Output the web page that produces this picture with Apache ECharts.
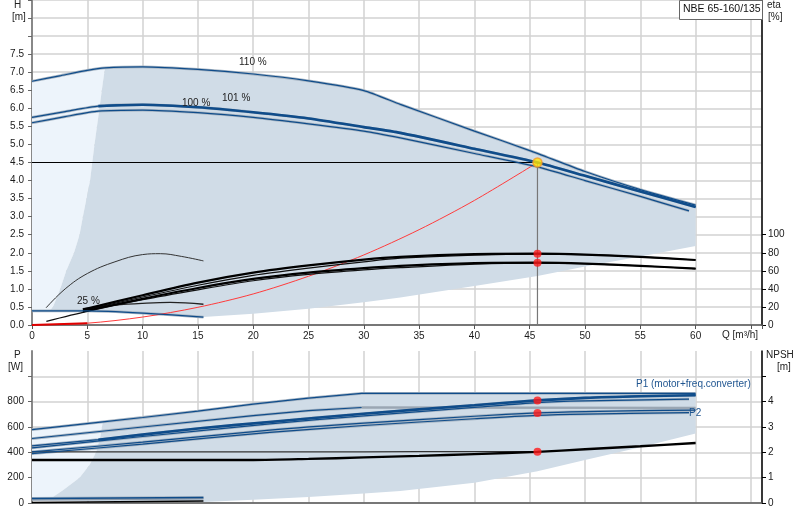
<!DOCTYPE html>
<html><head><meta charset="utf-8">
<script src="https://cdn.jsdelivr.net/npm/echarts@6/dist/echarts.min.js"></script>
<style>html,body{margin:0;padding:0;background:#fff}#chart{width:800px;height:520px}</style>
</head><body><div id="chart"></div>
<script>
// tick labels
const qTicks = [0, 5, 10, 15, 20, 25, 30, 35, 40, 45, 50, 55, 60];
const hTicks = [0, 0.5, 1, 1.5, 2, 2.5, 3, 3.5, 4, 4.5, 5, 5.5, 6, 6.5, 7, 7.5];
const etaTicks = [0, 20, 40, 60, 80, 100];
const pTicks = [0, 200, 400, 600, 800];
const pTickMarks = [0, 200, 400, 600, 800, 1000];
const npshTicks = [0, 1, 2, 3, 4];
const npshTickMarks = [0, 1, 2, 3, 4, 5];

// duty point
const duty = [45.7, 4.5];

// Q-H curves [Q m3/h, H m]
const h110 = [[0, 6.75], [2.5, 6.9], [5, 7.05], [6.6, 7.12], [10, 7.15], [15, 7.08], [20, 6.95], [25, 6.76], [30, 6.49], [33.3, 6.11], [40, 5.37], [45, 4.83], [50, 4.25], [55, 3.75], [60, 3.32]];
const h101 = [[0, 5.75], [3, 5.91], [6, 6.06], [10, 6.1], [15, 6.03], [20, 5.89], [25, 5.72], [30, 5.48], [33.3, 5.32], [40, 4.88], [45.7, 4.5], [50, 4.13], [55, 3.7], [60, 3.27]];
const h100 = [[0, 5.6], [3, 5.77], [6, 5.92], [10, 5.95], [15, 5.88], [20, 5.75], [25, 5.57], [30, 5.37], [33.3, 5.18], [40, 4.75], [45.7, 4.38], [50, 4.0], [55, 3.56], [59.4, 3.16]];
const h25 = [[0, 0.39], [5, 0.39], [10, 0.33], [15.5, 0.22]];
const system = [[0, 0], [5, 0.05], [10, 0.22], [15, 0.49], [20, 0.86], [25, 1.35], [30, 1.94], [35, 2.64], [40, 3.45], [45.7, 4.5]];

// operating range boundaries (H chart)
const hRangeLeft = [[1.6, 0.4], [1.9, 0.5], [2.55, 1.0], [3.1, 1.5], [3.8, 2.0], [4.3, 2.5], [4.6, 3.0], [5.25, 4.0], [5.65, 5.0], [6.1, 6.0], [6.4, 6.7], [6.6, 7.12]];
const hRangeBottom = [[60, 2.19], [55, 1.9], [50, 1.62], [45.7, 1.36], [40, 1.08], [33.3, 0.76], [30, 0.63], [25, 0.45], [20, 0.31], [15.5, 0.22]];

// efficiency [Q, eta %]
const etaPumpA = [[4.6, 17], [10, 33], [15, 47], [20, 58], [25, 66], [30, 72.5], [33.3, 75.5], [40, 78.5], [45.7, 79], [50, 78], [55, 75.5], [60, 72]];
const etaPumpB = [[4.6, 16], [10, 31], [15, 44], [20, 55], [25, 63], [30, 70], [33.3, 74], [40, 77.5], [45.7, 78.6], [50, 78], [55, 75.5], [60, 72]];
const etaTotA = [[4.6, 15], [10, 29], [15, 41], [20, 51], [25, 58], [30, 63], [33.3, 65.5], [40, 68.5], [45.7, 69], [50, 68], [55, 65.5], [60, 62.5]];
const etaTotB = [[1.3, 4], [5, 15], [10, 28], [15, 39], [20, 49], [25, 56], [30, 61], [33.3, 63.5], [40, 67.5], [45.7, 68.6], [50, 68], [55, 65.5], [60, 62.5]];
const etaPump25 = [[1.27, 19], [3, 40], [5, 57], [7.5, 70], [10, 78], [11.6, 79], [13.5, 76], [15.5, 71]];
const etaTot25 = [[4.6, 18], [7.5, 22], [10, 24], [12.5, 25], [15.5, 23]];
const etaDots = [[45.7, 79], [45.7, 69]];

// power [Q, W]
const p1_110 = [[0, 580], [6.4, 641], [10, 675], [15, 725], [20, 780], [25, 828], [29.8, 866], [60, 866]];
const p2_110 = [[0, 509], [10, 600], [20, 690], [25, 730], [29.8, 754], [60, 751]];
const p1_101 = [[0, 451], [6, 500], [10, 540], [15, 588], [21.5, 640], [30, 705], [40, 772], [45.7, 810], [50, 830], [55, 843], [60, 851]];
const p1_100 = [[0, 435], [10, 525], [21.5, 625], [30, 688], [40, 755], [45.7, 793], [50, 806], [59.4, 820]];
const p2_101 = [[0, 403], [10, 480], [21.5, 575], [30, 630], [40, 685], [45.7, 711], [50, 722], [55, 729], [60, 733]];
const p2_100 = [[0, 390], [10, 465], [21.5, 557], [30, 612], [40, 665], [45.7, 692], [50, 702], [59.4, 714]];
const p1_25 = [[0, 35], [15.5, 43]];
const p2_25 = [[0, 24], [15.5, 33]];
const pDots = [[45.7, 810], [45.7, 711]];

// operating range boundaries (P chart)
const pRangeLeft = [[1.6, 30], [2.8, 100], [4.3, 200], [5.2, 300], [5.8, 400], [6.2, 530], [6.4, 641]];
const pRangeBottom = [[60, 548], [55, 440], [50, 340], [45.7, 250], [40, 160], [33.3, 95], [30, 75], [25, 48], [20, 25], [15.5, 8], [1.6, 20]];

// NPSH [Q, m]
const npsh = [[0, 1.7], [20, 1.7], [25, 1.74], [30, 1.8], [35, 1.86], [40, 1.93], [45.7, 2.02], [50, 2.12], [55, 2.24], [60, 2.37]];
const npshB = [[0, 2.02], [20, 2.02], [30, 2.02], [40, 2.03], [45.7, 2.03]];
const npsh25 = [[0, 0.02], [15.5, 0.08]];
const npshDots = [[45.7, 2.02]];

const BLUE = '#0f4c8a';
const HALO = '#a7b5c3';
const DARK = '#d0dce7';
const LIGHT = '#edf4fb';
const FONT = 'Liberation Sans, Arial, sans-serif';
const F10 = '10px ' + FONT;

const chart = echarts.init(document.getElementById('chart'));

function line(data, xi, yi, color, width, smooth, z) {
  return {
    type: 'line', data: data, xAxisIndex: xi, yAxisIndex: yi,
    showSymbol: false, symbol: 'none', smooth: smooth === undefined ? 0.3 : smooth,
    lineStyle: { color: color, width: width }, silent: true, z: z || 5
  };
}
// blue curve drawn over a light grey halo, like the original plot
function blue(data, xi, yi, width, smooth) {
  return [line(data, xi, yi, HALO, width + 1.6, smooth, 4), line(data, xi, yi, BLUE, width, smooth, 6)];
}
function area(pts, xi, yi, color, z) {
  return {
    type: 'custom', data: pts, xAxisIndex: xi, yAxisIndex: yi, silent: true, z: z, clip: true,
    renderItem: function (params, api) {
      if (params.dataIndex !== 0) return null;
      return { type: 'polygon', shape: { points: pts.map(function (p) { return api.coord(p); }) }, style: { fill: color } };
    }
  };
}
function dots(data, xi, yi, color, size, border) {
  return {
    type: 'scatter', data: data, xAxisIndex: xi, yAxisIndex: yi, symbolSize: size, silent: true, z: 8,
    itemStyle: { color: color, borderColor: border || color, borderWidth: border ? 1.5 : 0 }
  };
}
function text(str, left, top, fill) {
  return { type: 'text', left: left, top: top, z: 21, style: { text: str, font: F10, fill: fill || '#222' } };
}

const hDark = hRangeLeft.concat(h110.filter(p => p[0] > 6.6), hRangeBottom, h25.slice().reverse().filter(p => p[0] > 1.6 && p[0] < 15.5));
const hLight = [h25[0]].concat(h110.filter(p => p[0] <= 6.6), hRangeLeft.slice().reverse());
const pDark = pRangeLeft.concat(p1_110.filter(p => p[0] > 6.4), pRangeBottom);
const pLight = [[0, 20]].concat(p1_110.filter(p => p[0] <= 6.4), pRangeLeft.slice().reverse(), [[1.6, 20]]);

const gridLine = { show: true, lineStyle: { color: '#d2d2d2', width: 1.5 } };
const lbl = { color: '#1a1a1a', fontSize: 10, fontFamily: FONT };

function xAx(gi, labels) {
  return {
    type: 'value', gridIndex: gi, min: 0, max: 66, interval: 5,
    axisLine: { show: true, onZero: false, lineStyle: { color: '#555', width: 1.5 } },
    axisTick: { show: labels, length: 4, lineStyle: { color: '#555' } },
    axisLabel: Object.assign({ show: labels, margin: 6, customValues: qTicks }, lbl),
    splitLine: gridLine
  };
}

const series = [
  area(hLight, 0, 0, LIGHT, 1),
  area(hDark, 0, 0, DARK, 2),
  area(pLight, 1, 2, LIGHT, 1),
  area(pDark, 1, 2, DARK, 2),

  // H chart
  line(system, 0, 0, '#ff3b3b', 1, 0.3),
  line(system.filter(p => p[0] <= 5), 0, 0, '#e00000', 2, 0.3),
  line([[0, duty[1]], duty], 0, 0, '#000', 1.2, false),
  line([duty, [duty[0], 0]], 0, 0, '#777', 1.2, false)
];
series.push(...blue(h25, 0, 0, 1.2, 0.2));
series.push(...blue(h110, 0, 0, 1.2, 0.2));
series.push(...blue(h100, 0, 0, 1.2, 0.2));
series.push(...blue(h101, 0, 0, 1.2, 0.2));
series.push(line(h101.filter(p => p[0] >= 6), 0, 0, BLUE, 2.6, 0.2, 7));
series.push(
  line(etaPump25, 0, 1, '#333', 1, 0.4),
  line(etaTot25, 0, 1, '#222', 1.3, 0.4),
  line(etaPumpB, 0, 1, '#111', 1.2, 0.3),
  line(etaTotB, 0, 1, '#111', 1.2, 0.3),
  line(etaPumpA, 0, 1, '#000', 2.2, 0.3),
  line(etaTotA, 0, 1, '#000', 2.2, 0.3),
  dots(etaDots, 0, 1, '#ff1a1a', 8),
  dots([duty], 0, 0, '#ffe600', 9, '#f39a2b')
);

// P chart
series.push(line(p2_25, 1, 2, '#8a98a8', 1.6, false));
series.push(line(npsh25, 1, 3, '#000', 1.6, false));
series.push(...blue(p1_25, 1, 2, 1.4, false));
series.push(...blue(p1_110, 1, 2, 1.2, false));
series.push(...blue(p2_110.filter(p => p[0] <= 29.8), 1, 2, 1.2, false));
series.push(line(p2_110.filter(p => p[0] >= 29.8), 1, 2, '#9aa6b3', 2.4, false));
series.push(...blue(p1_100, 1, 2, 1.2, 0.3));
series.push(...blue(p2_100, 1, 2, 1.2, 0.3));
series.push(...blue(p1_101, 1, 2, 1.2, 0.3));
series.push(line(p1_101.filter(p => p[0] >= 6), 1, 2, BLUE, 2.6, 0.3, 7));
series.push(...blue(p2_101, 1, 2, 1.2, 0.3));
series.push(
  line(npshB, 1, 3, '#333', 1.2, 0.3),
  line(npsh, 1, 3, '#000', 2.4, 0.3),
  dots(pDots, 1, 2, '#ff1a1a', 8),
  dots(npshDots, 1, 3, '#ff1a1a', 8)
);

const option = {
  animation: false,
  backgroundColor: '#fff',
  grid: [
    { left: 32, right: 38, top: 0, height: 325 },
    { left: 32, right: 38, top: 351, height: 152 }
  ],
  xAxis: [xAx(0, true), xAx(1, false)],
  yAxis: [
    {
      type: 'value', gridIndex: 0, position: 'left', min: 0, max: 9, interval: 0.5,
      axisLine: { show: true, lineStyle: { color: '#888', width: 2 } },
      axisTick: { show: true, length: 4, lineStyle: { color: '#666' } },
      axisLabel: Object.assign({ margin: 8, customValues: hTicks, formatter: v => v.toFixed(1) }, lbl),
      splitLine: gridLine
    },
    {
      type: 'value', gridIndex: 0, position: 'right', min: 0, max: 360, interval: 20,
      axisLine: { show: true, lineStyle: { color: '#000', width: 1.5 } },
      axisTick: { show: true, length: 4, customValues: etaTicks, lineStyle: { color: '#000' } },
      axisLabel: Object.assign({ margin: 6, customValues: etaTicks }, lbl),
      splitLine: { show: false }
    },
    {
      type: 'value', gridIndex: 1, position: 'left', min: 0, max: 1200, interval: 200,
      axisLine: { show: true, lineStyle: { color: '#888', width: 2 } },
      axisTick: { show: true, length: 4, customValues: pTickMarks, lineStyle: { color: '#666' } },
      axisLabel: Object.assign({ margin: 8, customValues: pTicks }, lbl),
      splitLine: gridLine
    },
    {
      type: 'value', gridIndex: 1, position: 'right', min: 0, max: 6, interval: 1,
      axisLine: { show: true, lineStyle: { color: '#000', width: 1.5 } },
      axisTick: { show: true, length: 4, customValues: npshTickMarks, lineStyle: { color: '#000' } },
      axisLabel: Object.assign({ margin: 6, customValues: npshTicks }, lbl),
      splitLine: { show: false }
    }
  ],
  graphic: [
    text('H', 14, 0),
    text('[m]', 12, 12),
    text('eta', 767, 0),
    text('[%]', 768, 12),
    text('Q [m\u00b3/h]', 722, 330),
    text('P', 14, 350),
    text('[W]', 8, 362),
    text('NPSH', 766, 350),
    text('[m]', 777, 362),
    { type: 'rect', left: 679, top: 0, shape: { width: 83, height: 19 }, style: { fill: '#fff', stroke: '#666', lineWidth: 1 }, z: 20 },
    { type: 'text', left: 683, top: 4, z: 21, style: { text: 'NBE 65-160/135', font: '10.5px ' + FONT, fill: '#111' } },
    text('110 %', 239, 57),
    text('101 %', 222, 93),
    text('100 %', 182, 98),
    text('25 %', 77, 296),
    text('P1 (motor+freq.converter)', 636, 379, '#1f5590'),
    text('P2', 689, 408, '#1f5590')
  ],
  series: series
};
chart.setOption(option);
</script></body></html>
